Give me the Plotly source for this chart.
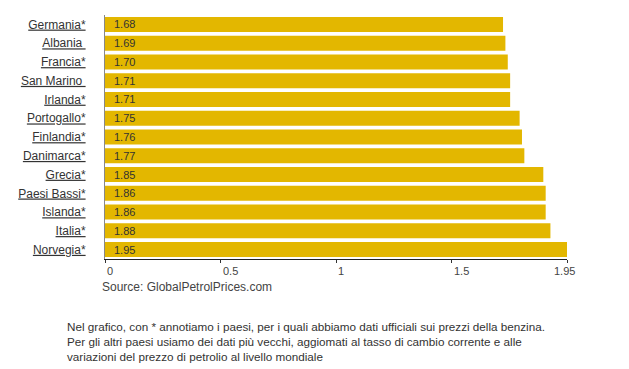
import plotly.graph_objects as go

countries = ["Germania*", "Albania\u00a0", "Francia*", "San Marino\u00a0", "Irlanda*",
             "Portogallo*", "Finlandia*", "Danimarca*", "Grecia*", "Paesi Bassi*",
             "Islanda*", "Italia*", "Norvegia*"]
prices = [1.68, 1.69, 1.70, 1.71, 1.71, 1.75, 1.76, 1.77, 1.85, 1.86, 1.86, 1.88, 1.95]

# original chart: evenly spaced ticks, last one labelled with the data maximum
tick_steps = [0, 0.5, 1, 1.5, 2]
tick_labels = ["0", "0.5", "1", "1.5", "1.95"]
x_max = 1.95

FONT = "Liberation Sans, Arial, sans-serif"
BAR = "#E3B700"

cats = [f"<u>{c}</u>" for c in countries]

fig = go.Figure()
fig.add_trace(go.Bar(
    x=prices, y=cats, orientation="h",
    marker=dict(color=BAR, line=dict(width=0)),
    hoverinfo="skip",
))

tick_pos = [s * x_max / tick_steps[-1] for s in tick_steps]

annotations = []
for c, v in zip(cats, prices):
    annotations.append(dict(
        x=0, y=c, xref="x", yref="y", text=f"{v:.2f}", showarrow=False,
        xanchor="left", yanchor="middle", xshift=7,
        font=dict(family=FONT, size=11, color="#333333"),
    ))
for i, (p, t) in enumerate(zip(tick_pos, tick_labels)):
    last = i == len(tick_pos) - 1
    annotations.append(dict(
        x=p, y=0, xref="x", yref="paper", text=t, showarrow=False,
        xanchor="center" if last else "left", yanchor="middle",
        xshift=-3 if last else 0, yshift=-12,
        font=dict(family=FONT, size=11, color="#444444"),
    ))
annotations.append(dict(
    x=0, y=0, xref="paper", yref="paper", text="Source: GlobalPetrolPrices.com",
    showarrow=False, xanchor="left", yanchor="middle", xshift=-5, yshift=-28,
    font=dict(family=FONT, size=12, color="#444444"),
))
annotations.append(dict(
    x=0, y=0, xref="paper", yref="paper",
    text=("Nel grafico, con * annotiamo i paesi, per i quali abbiamo dati ufficiali sui prezzi della benzina.<br>"
          "Per gli altri paesi usiamo dei dati più vecchi, aggiomati al tasso di cambio corrente e alle<br>"
          "variazioni del prezzo di petrolio al livello mondiale"),
    showarrow=False, xanchor="left", yanchor="top", align="left", xshift=-40, yshift=-59,
    font=dict(family=FONT, size=11.7, color="#333333"),
))

# the page body adds an 8px offset; size the figure to fit the window
fig.update_layout(
    width=621, height=361,
    margin=dict(l=97, r=62, t=7, b=110),
    paper_bgcolor="white", plot_bgcolor="white",
    bargap=0.2,
    showlegend=False,
    font=dict(family=FONT, size=12, color="#333333"),
    xaxis=dict(
        range=[0, x_max], tickvals=tick_pos, ticktext=tick_labels,
        showticklabels=False, ticks="outside", ticklen=3, tickcolor="#333333",
        showline=True, linecolor="#222222", linewidth=1,
        showgrid=False, zeroline=False, fixedrange=True,
    ),
    yaxis=dict(
        type="category", autorange="reversed",
        showline=True, linecolor="#888888", linewidth=1,
        showgrid=False, zeroline=False, ticks="", ticklabelstandoff=16,
        tickfont=dict(family=FONT, size=12, color="#333333"),
        fixedrange=True,
    ),
    annotations=annotations,
)

fig.write_html("out.html")
